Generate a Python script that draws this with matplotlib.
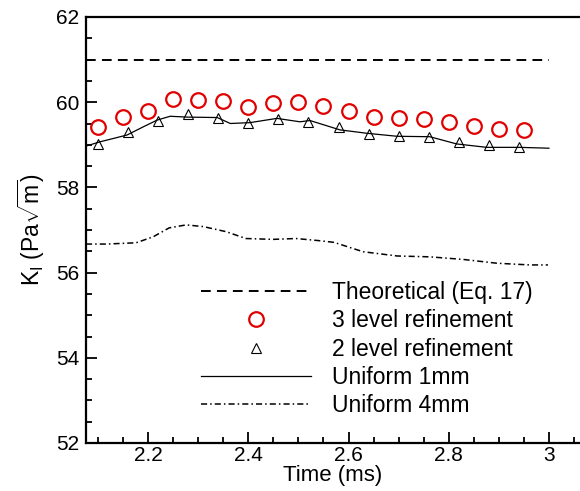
import numpy as np
import matplotlib
matplotlib.use('Agg')
import matplotlib.pyplot as plt
from matplotlib.ticker import MultipleLocator

plt.rcParams['font.family'] = ['Liberation Sans', 'DejaVu Sans']
plt.rcParams['mathtext.fontset'] = 'custom'
plt.rcParams['mathtext.rm'] = 'Liberation Sans'

# valeur théorique
k_theo = 61.0
t_theo = [2.076, 3.0]

# raffinement 3 niveaux (cercles)
t_ref3 = [2.10, 2.15, 2.20, 2.25, 2.30, 2.35, 2.40, 2.45, 2.50,
          2.55, 2.60, 2.65, 2.70, 2.75, 2.80, 2.85, 2.90, 2.95]
k_ref3 = [59.41, 59.65, 59.79, 60.08, 60.05, 60.03, 59.89, 59.97, 60.00,
          59.92, 59.79, 59.66, 59.64, 59.61, 59.54, 59.43, 59.37, 59.35]

# raffinement 2 niveaux (triangles)
t_ref2 = [2.10, 2.16, 2.22, 2.28, 2.34, 2.40, 2.46, 2.52,
          2.58, 2.64, 2.70, 2.76, 2.82, 2.88, 2.94]
k_ref2 = [59.03, 59.31, 59.57, 59.72, 59.62, 59.52, 59.61, 59.54,
          59.41, 59.25, 59.21, 59.19, 59.07, 58.99, 58.94]

# maillage uniforme 1mm
t_u1 = [2.076, 2.104, 2.158, 2.190, 2.218, 2.244, 2.278, 2.338, 2.364, 2.403,
        2.457, 2.503, 2.523, 2.583, 2.637, 2.697, 2.762, 2.816, 2.876, 2.942, 3.0]
k_u1 = [58.97, 59.07, 59.23, 59.42, 59.58, 59.67, 59.65, 59.64, 59.50, 59.52,
        59.62, 59.54, 59.57, 59.35, 59.27, 59.20, 59.19, 59.02, 58.94, 58.94, 58.92]

# maillage uniforme 4mm
t_u4 = [2.076, 2.116, 2.176, 2.210, 2.242, 2.276, 2.310, 2.356, 2.395, 2.449,
        2.495, 2.541, 2.571, 2.629, 2.697, 2.762, 2.828, 2.896, 2.962, 2.998]
k_u4 = [56.67, 56.67, 56.70, 56.84, 57.05, 57.12, 57.08, 56.96, 56.80, 56.78,
        56.80, 56.75, 56.71, 56.49, 56.39, 56.37, 56.31, 56.22, 56.18, 56.18]

fig = plt.figure(figsize=(5.8, 4.91), dpi=100)
ax = fig.add_axes([86/580, 1 - 443/491, 1 - 86/580, (443 - 17)/491])

ax.plot(t_theo, [k_theo, k_theo], 'k--', lw=1.4, dashes=(5, 3.2),
        label='Theoretical (Eq. 17)')
ax.plot(t_ref3, k_ref3, 'o', ls='none', mfc='none', mec='#e00000', mew=1.6,
        ms=10.5, label='3 level refinement')
ax.plot(t_ref2, k_ref2, '^', ls='none', mfc='none', mec='k', mew=0.8,
        ms=7.5, label='2 level refinement')
ax.plot(t_u1, k_u1, '-', color='k', lw=0.9, label='Uniform 1mm')
ax.plot(t_u4, k_u4, 'k', lw=1.1, dashes=(4, 2, 1, 2), label='Uniform 4mm')

ax.set_xlim(2.076, 3.062)
ax.set_ylim(52, 62)
ax.xaxis.set_major_locator(MultipleLocator(0.2))
ax.xaxis.set_minor_locator(MultipleLocator(0.05))
ax.yaxis.set_major_locator(MultipleLocator(2))
ax.yaxis.set_minor_locator(MultipleLocator(0.5))
ax.set_xticks([2.2, 2.4, 2.6, 2.8, 3.0])
ax.set_xticklabels(['2.2', '2.4', '2.6', '2.8', '3'])

ax.tick_params(which='both', direction='in', labelsize=15, width=1.3)
ax.tick_params(which='major', length=8)
ax.tick_params(which='minor', length=4)
ax.tick_params(axis='x', pad=2.5)
ax.tick_params(axis='y', pad=5)
for s in ['left', 'bottom', 'top']:
    ax.spines[s].set_linewidth(1.6)
ax.spines['right'].set_visible(False)

ax.set_xlabel('Time (ms)', fontsize=16, labelpad=-0.5)
ax.set_ylabel(r'K$_\mathrm{I}$ (Pa$\sqrt{\mathrm{m}}$)', fontsize=16.5, labelpad=6)

ax.legend(loc='upper left', bbox_to_anchor=(201/580, 1 - 281/491),
          bbox_transform=fig.transFigure, frameon=False, fontsize=16.5,
          handlelength=4.8, handletextpad=0.9, labelspacing=0.23,
          borderpad=0, borderaxespad=0)

fig.savefig('out.png', dpi=100)
